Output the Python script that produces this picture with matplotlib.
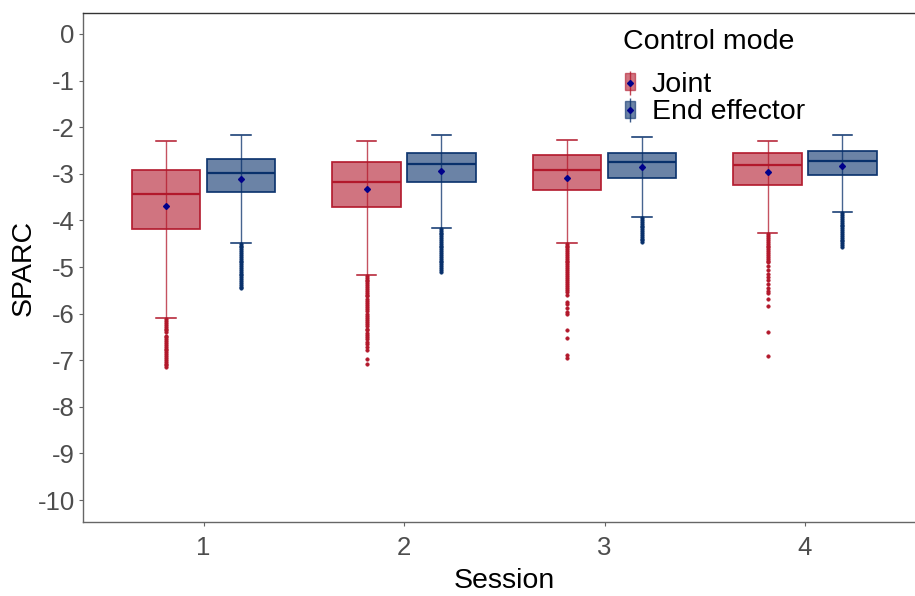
import matplotlib
matplotlib.use("Agg")
import matplotlib.pyplot as plt
from matplotlib.patches import Patch
from matplotlib.lines import Line2D
from matplotlib.legend_handler import HandlerTuple

plt.rcParams['font.family'] = ['Liberation Sans', 'DejaVu Sans']

sessions = ["1", "2", "3", "4"]
modes = ["Joint", "End effector"]

# summary statistics per session (Joint / End effector)
joint_whishi = [-2.29, -2.30, -2.28, -2.29]
joint_q3 = [-2.92, -2.75, -2.59, -2.56]
joint_med = [-3.44, -3.17, -2.91, -2.82]
joint_mean = [-3.68, -3.33, -3.08, -2.97]
joint_q1 = [-4.18, -3.72, -3.35, -3.25]
joint_whislo = [-6.10, -5.17, -4.48, -4.28]

ee_whishi = [-2.17, -2.16, -2.20, -2.17]
ee_q3 = [-2.68, -2.55, -2.55, -2.52]
ee_med = [-2.99, -2.80, -2.75, -2.73]
ee_mean = [-3.11, -2.93, -2.85, -2.83]
ee_q1 = [-3.39, -3.17, -3.08, -3.03]
ee_whislo = [-4.48, -4.16, -3.93, -3.83]

joint_out_s1 = [-6.12, -6.16, -6.20, -6.24, -6.28, -6.32, -6.36, -6.40, -6.47, -6.51, -6.55,
                -6.59, -6.63, -6.67, -6.71, -6.75, -6.79, -6.83, -6.86, -6.91, -6.95, -6.99,
                -7.03, -7.07, -7.11, -7.14]
joint_out_s2 = [-5.19, -5.23, -5.27, -5.31, -5.35, -5.39, -5.43, -5.47, -5.51, -5.55, -5.59,
                -5.63, -5.68, -5.73, -5.78, -5.82, -5.86, -5.90, -5.95, -6.00, -6.04, -6.09,
                -6.13, -6.18, -6.22, -6.27, -6.32, -6.36, -6.41, -6.45, -6.50, -6.55, -6.60,
                -6.66, -6.72, -6.78, -6.98, -7.09]
joint_out_s3 = [-4.50, -4.54, -4.58, -4.62, -4.66, -4.70, -4.74, -4.78, -4.82, -4.86, -4.90,
                -4.94, -4.98, -5.02, -5.06, -5.10, -5.14, -5.19, -5.23, -5.28, -5.32, -5.37,
                -5.41, -5.46, -5.50, -5.53, -5.60, -5.74, -5.80, -5.87, -5.96, -6.00, -6.35,
                -6.52, -6.89, -6.95]
joint_out_s4 = [-4.30, -4.34, -4.38, -4.42, -4.46, -4.50, -4.54, -4.58, -4.62, -4.66, -4.70,
                -4.74, -4.78, -4.82, -4.86, -4.90, -4.98, -5.06, -5.14, -5.21, -5.28, -5.36,
                -5.46, -5.52, -5.56, -5.69, -5.83, -6.40, -6.90]

ee_out_s1 = [-4.50, -4.54, -4.58, -4.62, -4.66, -4.70, -4.74, -4.78, -4.82, -4.86, -4.90,
             -4.94, -4.98, -5.02, -5.06, -5.10, -5.14, -5.18, -5.22, -5.26, -5.30, -5.34,
             -5.38, -5.42, -5.44]
ee_out_s2 = [-4.18, -4.22, -4.26, -4.30, -4.34, -4.38, -4.42, -4.46, -4.50, -4.54, -4.58,
             -4.62, -4.66, -4.70, -4.74, -4.78, -4.82, -4.86, -4.90, -4.94, -4.98, -5.02,
             -5.06, -5.10]
ee_out_s3 = [-3.95, -3.99, -4.03, -4.07, -4.11, -4.15, -4.19, -4.23, -4.27, -4.31, -4.35,
             -4.39, -4.43, -4.47]
ee_out_s4 = [-3.85, -3.89, -3.93, -3.97, -4.01, -4.05, -4.09, -4.13, -4.17, -4.21, -4.25,
             -4.29, -4.33, -4.37, -4.41, -4.45, -4.49, -4.53, -4.56]

joint_out = [joint_out_s1, joint_out_s2, joint_out_s3, joint_out_s4]
ee_out = [ee_out_s1, ee_out_s2, ee_out_s3, ee_out_s4]

y_ticks = [0, -1, -2, -3, -4, -5, -6, -7, -8, -9, -10]

# styling
JOINT_C = "#B2182B"
EE_C = "#08306B"
MEAN_C = "#00008B"
TICK_C = "#4D4D4D"
AX_C = "#666666"

W, H = 915, 596
fig = plt.figure(figsize=(W / 100, H / 100), dpi=100)
ax = fig.add_axes([83.2 / W, 1 - 522 / H, (925.3 - 83.2) / W, (522 - 13) / H])

offset = 0.187
bw = 0.34


def draw_group(whishi, q3, med, mean, q1, whislo, outs, color, sign):
    stats = []
    pos = []
    for i in range(len(sessions)):
        stats.append(dict(med=med[i], q1=q1[i], q3=q3[i], whislo=whislo[i],
                          whishi=whishi[i], mean=mean[i], fliers=outs[i]))
        pos.append(i + 1 + sign * offset)
    # full-length whisker line behind box
    ax.vlines(pos, whislo, whishi, color=color, lw=1.0, alpha=0.75, zorder=2)
    ax.bxp(stats, positions=pos, widths=bw, capwidths=bw * 0.29,
           showmeans=True, patch_artist=True, manage_ticks=False,
           boxprops=dict(facecolor=color, alpha=0.6, edgecolor=color, lw=1.2),
           medianprops=dict(color=color, lw=1.6),
           whiskerprops=dict(color=color, lw=0.0),
           capprops=dict(color=color, lw=1.1),
           meanprops=dict(marker='D', markersize=3.0, markerfacecolor=MEAN_C,
                          markeredgecolor=MEAN_C),
           flierprops=dict(marker='o', markersize=2.6, markerfacecolor=color,
                           markeredgecolor=color, markeredgewidth=0.3, alpha=1.0))
    # re-draw box edges at stronger opacity
    for i, p in enumerate(pos):
        ax.add_patch(plt.Rectangle((p - bw / 2, q1[i]), bw, q3[i] - q1[i], fill=False,
                                   edgecolor=color, lw=1.1, alpha=0.85, zorder=3))


draw_group(joint_whishi, joint_q3, joint_med, joint_mean, joint_q1, joint_whislo,
           joint_out, JOINT_C, -1)
draw_group(ee_whishi, ee_q3, ee_med, ee_mean, ee_q1, ee_whislo, ee_out, EE_C, +1)

ax.set_xlim(0.4, 4.6)
ax.set_ylim(-10.47, 0.45)
ax.set_xticks(range(1, len(sessions) + 1))
ax.set_xticklabels(sessions)
ax.set_yticks(y_ticks)
ax.set_yticklabels([str(t) for t in y_ticks])
ax.tick_params(axis='both', colors=AX_C, length=3, width=0.8, labelsize=18.5,
               labelcolor=TICK_C)
ax.tick_params(axis='x', pad=7)
ax.tick_params(axis='y', pad=3)
for s in ['left', 'bottom', 'top']:
    ax.spines[s].set_color(AX_C)
    ax.spines[s].set_linewidth(1.0)
ax.spines['right'].set_visible(False)
ax.spines['top'].set_color('#333333')

ax.set_xlabel("Session", fontsize=20.5, color='black', labelpad=5.5)
ax.set_ylabel("SPARC", fontsize=20.5, color='black', labelpad=1)

handles = []
for c in [JOINT_C, EE_C]:
    handles.append((Patch(facecolor=c, edgecolor=c, alpha=0.6),
                    Line2D([], [], color=c, marker='|', markersize=17, lw=0,
                           markeredgewidth=1.0, alpha=0.8),
                    Line2D([], [], color=MEAN_C, marker='D', markersize=3, lw=0)))
fig.text(623 / W, 1 - 42 / H, "Control mode", fontsize=20.5, ha='left', va='center')
leg = ax.legend(handles, modes, fontsize=20.5,
                frameon=False, loc='upper left', bbox_to_anchor=(605 / W, 1 - 52 / H),
                bbox_transform=fig.transFigure, handlelength=0.35, handleheight=0.55,
                handletextpad=0.6, labelspacing=0.05, borderpad=0.2,
                handler_map={tuple: HandlerTuple(ndivide=1)})

fig.savefig("out.png", dpi=100)
